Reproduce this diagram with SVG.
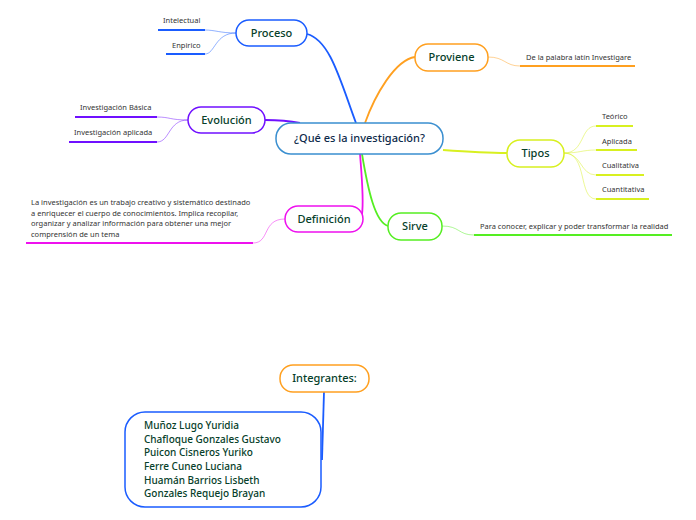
<svg xmlns="http://www.w3.org/2000/svg" width="696" height="520" viewBox="0 0 696 520">
<style>
  .node{fill:#fff;stroke-width:1.5}
  .lbl{font-family:"Noto Sans","Open Sans",sans-serif;font-size:11px;fill:#06402a;text-anchor:middle;font-weight:500}
  .leaf{font-family:"Noto Sans","Open Sans",sans-serif;font-size:7.5px;fill:#333}
  .main{fill:none;stroke-width:1.8}
  .thin{fill:none;stroke-width:0.8;opacity:0.6}
  .ul{stroke-width:2;fill:none}
  .names{font-family:"Noto Sans","Open Sans",sans-serif;font-size:10px;fill:#06402a;font-weight:500}
</style>
<rect width="696" height="520" fill="#fff"/>
<g id="connectors">
  <path class="main" stroke="#1a5cff" d="M307,34 C330,40 340,80 356,123"/>
  <path class="main" stroke="#7010ff" d="M265,120 C280,120 290,121 300,123"/>
  <path class="main" stroke="#ffa020" d="M365,123 C375,95 395,60 415,57"/>
  <path class="main" stroke="#d8f020" d="M443,150 C470,152 490,153 507,153"/>
  <path class="main" stroke="#55ee22" d="M362,154 C368,190 375,222 388,226"/>
  <path class="main" stroke="#ee11ee" d="M360,154 C362,180 364,200 362,214"/>
  <path class="main" stroke="#1a5cff" d="M324,392 L322,460"/>
  <path class="thin" stroke="#1a5cff" d="M236,33 C220,33 215,30 205,30"/>
  <path class="thin" stroke="#1a5cff" d="M236,33 C215,33 215,54 205,54"/>
  <path class="thin" stroke="#7010ff" d="M188,120 C170,120 170,117 157,117"/>
  <path class="thin" stroke="#7010ff" d="M188,120 C168,120 170,142 157,142"/>
  <path class="thin" stroke="#ffa020" d="M488,57 C505,57 505,66 520,66"/>
  <path class="thin" stroke="#d8f020" d="M564,153 C585,153 580,126 596,126"/>
  <path class="thin" stroke="#d8f020" d="M564,153 C580,153 582,150 596,150"/>
  <path class="thin" stroke="#d8f020" d="M564,153 C582,153 580,175 596,175"/>
  <path class="thin" stroke="#d8f020" d="M564,153 C588,153 578,199 596,199"/>
  <path class="thin" stroke="#55ee22" d="M442,226 C460,226 458,235 474,235"/>
  <path class="thin" stroke="#ee11ee" d="M285,219 C262,219 270,243 253,243"/>
</g>
<g id="leaves">
  <line class="ul" stroke="#1a5cff" x1="158" y1="30" x2="205" y2="30"/>
  <text class="leaf" x="163" y="23">Intelectual</text>
  <line class="ul" stroke="#1a5cff" x1="166" y1="54" x2="205" y2="54"/>
  <text class="leaf" x="172" y="48">Enpirico</text>
  <line class="ul" stroke="#7010ff" x1="75" y1="117" x2="157" y2="117"/>
  <text class="leaf" x="80" y="110">Investigación Básica</text>
  <line class="ul" stroke="#7010ff" x1="69" y1="142" x2="157" y2="142"/>
  <text class="leaf" x="74" y="135">Investigación aplicada</text>
  <line class="ul" stroke="#ffa020" x1="520" y1="66" x2="635" y2="66"/>
  <text class="leaf" x="526" y="60">De la palabra latín Investigare</text>
  <line class="ul" stroke="#d8f020" x1="596" y1="126" x2="633" y2="126"/>
  <text class="leaf" x="602" y="119">Teórico</text>
  <line class="ul" stroke="#d8f020" x1="596" y1="150" x2="637" y2="150"/>
  <text class="leaf" x="602" y="144">Aplicada</text>
  <line class="ul" stroke="#d8f020" x1="596" y1="175" x2="644" y2="175"/>
  <text class="leaf" x="602" y="168">Cualitativa</text>
  <line class="ul" stroke="#d8f020" x1="596" y1="199" x2="649" y2="199"/>
  <text class="leaf" x="602" y="192">Cuantitativa</text>
  <line class="ul" stroke="#55ee22" x1="474" y1="235" x2="672" y2="235"/>
  <text class="leaf" x="480" y="229">Para conocer, explicar y poder transformar la realidad</text>
  <line class="ul" stroke="#ee11ee" x1="26" y1="243" x2="253" y2="243"/>
  <text class="leaf" x="31" y="205">La investigación es un trabajo creativo y sistemático destinado</text>
  <text class="leaf" x="31" y="216">a enriquecer el cuerpo de conocimientos. Implica recopilar,</text>
  <text class="leaf" x="31" y="226">organizar y analizar información para obtener una mejor</text>
  <text class="leaf" x="31" y="237">comprensión de un tema</text>
</g>
<g id="center">
  <rect class="node" stroke="#3a8fd0" x="276" y="123" width="167" height="31" rx="15"/>
  <text class="lbl" x="359.5" y="142" style="fill:#0d2a4a">¿Qué es la investigación?</text>
</g>
<g id="proceso">
  <rect class="node" stroke="#1a5cff" x="236" y="20" width="71" height="26" rx="13"/>
  <text class="lbl" x="271.5" y="37">Proceso</text>
</g>
<g id="evolucion">
  <rect class="node" stroke="#7010ff" x="188" y="107" width="77" height="26" rx="13"/>
  <text class="lbl" x="226.5" y="124">Evolución</text>
</g>
<g id="proviene">
  <rect class="node" stroke="#ffa020" x="415" y="44" width="73" height="27" rx="13"/>
  <text class="lbl" x="451.5" y="61">Proviene</text>
</g>
<g id="tipos">
  <rect class="node" stroke="#d8f020" x="507" y="140" width="57" height="27" rx="13"/>
  <text class="lbl" x="535.5" y="157">Tipos</text>
</g>
<g id="sirve">
  <rect class="node" stroke="#55ee22" x="388" y="213" width="54" height="27" rx="13"/>
  <text class="lbl" x="415" y="230">Sirve</text>
</g>
<g id="definicion">
  <rect class="node" stroke="#ee11ee" x="285" y="206" width="78" height="26" rx="13"/>
  <text class="lbl" x="324" y="223">Definición</text>
</g>
<g id="integrantes">
  <rect class="node" stroke="#ffa020" x="280" y="365" width="89" height="27" rx="13"/>
  <text class="lbl" x="324.5" y="382">Integrantes:</text>
</g>
<g id="nombres">
  <rect class="node" stroke="#1a5cff" x="125" y="412" width="196" height="95" rx="20"/>
  <text class="names" x="144" y="429">Muñoz Lugo Yuridia</text>
  <text class="names" x="144" y="443">Chafloque Gonzales Gustavo</text>
  <text class="names" x="144" y="456">Puicon Cisneros Yuriko</text>
  <text class="names" x="144" y="470">Ferre Cuneo Luciana</text>
  <text class="names" x="144" y="484">Huamán Barrios Lisbeth</text>
  <text class="names" x="144" y="497">Gonzales Requejo Brayan</text>
</g>
</svg>
